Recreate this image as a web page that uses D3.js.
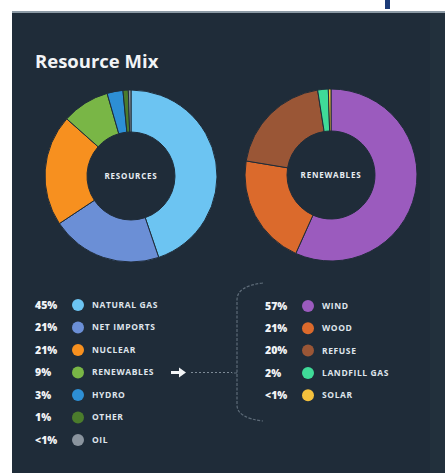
<!DOCTYPE html>
<html>
<head>
<meta charset="utf-8">
<script src="https://cdn.jsdelivr.net/npm/d3@7/dist/d3.min.js"></script>
<style>
  body { margin: 0; background: #fff; }
  svg { display: block; font-family: "Open Sans", sans-serif; }
</style>
</head>
<body>
<div class="mix"></div>
<script>
// resource shares (percent), "<1%" taken as 0.5
const resources = ["Natural Gas", "Net Imports", "Nuclear", "Renewables", "Hydro", "Other", "Oil"];
const resourceValues = [45, 21, 21, 9, 3, 1, 0.5];
const resourceLabels = ["45%", "21%", "21%", "9%", "3%", "1%", "<1%"];
const resourceColors = ["#6cc4f2", "#6b8fd6", "#f7901f", "#79b646", "#2d8fd5", "#4b7c2c", "#8a949e"];

const renewables = ["Wind", "Wood", "Refuse", "Landfill Gas", "Solar"];
const renewableValues = [57, 21, 20, 2, 0.5];
const renewableLabels = ["57%", "21%", "20%", "2%", "<1%"];
const renewableColors = ["#9b5bbe", "#db6a2c", "#9a5636", "#3fdb98", "#f4c13d"];

const W = 445, H = 473;
const bg = "#1f2c39";

const svg = d3.select(".mix")
  .append("svg")
    .attr("width", W)
    .attr("height", H);

// white strip + panel
svg.append("rect").attr("x", 385).attr("y", 0).attr("width", 5).attr("height", 9).attr("fill", "#1c3b78");
svg.append("rect").attr("x", 12).attr("y", 11).attr("width", W - 12).attr("height", H - 11).attr("fill", bg);
svg.append("rect").attr("x", 12).attr("y", 11).attr("width", W - 12).attr("height", 2).attr("fill", "#8d9ba6");
svg.append("rect").attr("x", 430).attr("y", 13).attr("width", 15).attr("height", H - 13).attr("fill", "#22303c");

svg.append("text")
  .attr("x", 35).attr("y", 68)
  .attr("fill", "#f2f4f6")
  .attr("font-size", 18.5)
  .attr("font-weight", 700)
  .text("Resource Mix");

const pie = d3.pie().sort(null).value(d => d);
const arc = d3.arc().innerRadius(44).outerRadius(86);

function donut(cx, cy, values, colors, title) {
  const g = svg.append("g").attr("transform", `translate(${cx},${cy})`);
  g.selectAll("path")
    .data(pie(values))
    .join("path")
      .attr("d", arc)
      .attr("fill", (d, i) => colors[i])
      .attr("stroke", bg)
      .attr("stroke-width", 1);
  g.append("text")
    .attr("text-anchor", "middle")
    .attr("dy", "0.35em")
    .attr("fill", "#e8edf2")
    .attr("font-size", 8)
    .attr("font-weight", 700)
    .attr("letter-spacing", 0.8)
    .text(title);
}

donut(131, 176, resourceValues, resourceColors, "RESOURCES");
donut(331, 175, renewableValues, renewableColors, "RENEWABLES");

function legend(x, y0, step, names, labels, colors) {
  const rows = svg.selectAll(null)
    .data(names)
    .enter()
    .append("g")
      .attr("transform", (d, i) => `translate(${x},${y0 + step * i})`);
  rows.append("text")
    .attr("dy", "0.35em")
    .attr("fill", "#f2f4f6")
    .attr("font-size", 10.5)
    .attr("font-weight", 800)
    .text((d, i) => labels[i]);
  rows.append("circle")
    .attr("cx", 43).attr("r", 6)
    .attr("fill", (d, i) => colors[i]);
  rows.append("text")
    .attr("x", 57)
    .attr("dy", "0.35em")
    .attr("fill", "#dfe5ec")
    .attr("font-size", 8.5)
    .attr("font-weight", 700)
    .attr("letter-spacing", 0.6)
    .text(d => d.toUpperCase());
}

legend(35, 305, 22.5, resources, resourceLabels, resourceColors);
legend(265, 306, 22.3, renewables, renewableLabels, renewableColors);

// arrow + dotted link to bracket
const ay = 305 + 22.5 * 3;
svg.append("path")
  .attr("d", `M171,${ay - 1.5} L179,${ay - 1.5} L179,${ay - 5} L186,${ay} L179,${ay + 5} L179,${ay + 1.5} L171,${ay + 1.5} Z`)
  .attr("fill", "#f2f4f6");
svg.append("line")
  .attr("x1", 191).attr("x2", 232)
  .attr("y1", ay).attr("y2", ay)
  .attr("stroke", "#7d8a96")
  .attr("stroke-dasharray", "2,2");

// bracket
svg.append("path")
  .attr("d", "M263,283 Q237,286 237,300 L237,405 Q237,418 263,421 M237,373 L232,373")
  .attr("fill", "none")
  .attr("stroke", "#5d6b78")
  .attr("stroke-width", 1.2)
  .attr("stroke-dasharray", "3,1.5");
</script>
</body>
</html>
